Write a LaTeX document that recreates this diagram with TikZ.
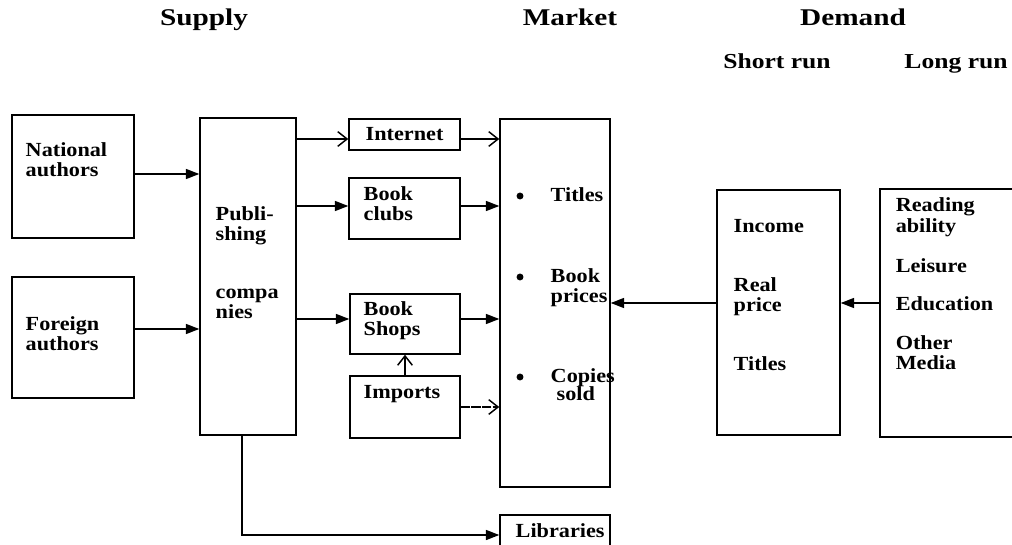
\documentclass[tikz,border=0pt]{standalone}
\usepackage{fontspec}
\usepackage{graphicx}
\setmainfont{Liberation Serif}
\usetikzlibrary{arrows.meta,fit}
% wide bold lettering used for all labels
\newcommand\widetxt[2]{\scalebox{#1}[1]{#2}}
\newcommand\bodytxt[1]{\widetxt{1.11}{#1}}
\newcommand\headtxt[1]{\widetxt{1.22}{#1}}
\newcommand\subtxt[1]{\widetxt{1.2}{#1}}
\begin{document}
\begin{tikzpicture}[x=0.75pt,y=-0.75pt,
  line width=1.1pt,
  box/.style={draw, rectangle, inner sep=0pt, fit={#1}},
  lbl/.style={anchor=base west, inner sep=0pt, font=\fontsize{15}{18}\selectfont\bfseries},
  head/.style={anchor=base, inner sep=0pt, font=\fontsize{18}{22}\selectfont\bfseries},
  subhead/.style={anchor=base, inner sep=0pt, font=\fontsize{16}{19}\selectfont\bfseries},
  dot/.style={circle, fill, inner sep=0pt, minimum size=5.2pt},
  solidtip/.style={-{Triangle[length=10pt,width=7.5pt]}},
  opentip/.style={-{Straight Barb[length=7pt,width=11pt]}},
]
\useasboundingbox (0,0) rectangle (1012,545);
\clip (0,0) rectangle (1012,545);

% column headings
\node[head] (hsupply) at (204,26) {\headtxt{Supply}};
\node[head] (hmarket) at (570,26) {\headtxt{Market}};
\node[head] (hdemand) at (853,26) {\headtxt{Demand}};
\node[subhead] (hshort) at (777,69) {\subtxt{Short run}};
\node[subhead] (hlong) at (956,69) {\subtxt{Long run}};

% supply side
\node[box={(12,115) (134,238)}] (nat) {};
\node[lbl] (nat1) at (25,157) {\bodytxt{National}};
\node[lbl] (nat2) at (25,177) {\bodytxt{authors}};

\node[box={(12,277) (134,398)}] (for) {};
\node[lbl] (for1) at (25,330) {\bodytxt{Foreign}};
\node[lbl] (for2) at (25,350) {\bodytxt{authors}};

\node[box={(200,118) (296,435)}] (pub) {};
\node[lbl] (pub1) at (215,220) {\bodytxt{Publi-}};
\node[lbl] (pub2) at (215,240) {\bodytxt{shing}};
\node[lbl] (pub3) at (215,298) {\bodytxt{compa}};
\node[lbl] (pub4) at (215,318) {\bodytxt{nies}};

% distribution channels
\node[box={(349,119) (460,150)}] (int) {};
\node[lbl] (int1) at (365,141) {\bodytxt{Internet}};

\node[box={(349,178) (460,239)}] (clubs) {};
\node[lbl] (clubs1) at (363,200) {\bodytxt{Book}};
\node[lbl] (clubs2) at (363,220) {\bodytxt{clubs}};

\node[box={(350,294) (460,354)}] (shops) {};
\node[lbl] (shops1) at (363,315) {\bodytxt{Book}};
\node[lbl] (shops2) at (363,335) {\bodytxt{Shops}};

\node[box={(350,376) (460,438)}] (imp) {};
\node[lbl] (imp1) at (363,398) {\bodytxt{Imports}};

% market
\node[box={(500,119) (610,487)}] (mkt) {};
\node[dot] (d1) at (520,196) {};
\node[lbl] (m1) at (550,202) {\bodytxt{Titles}};
\node[dot] (d2) at (520,277) {};
\node[lbl] (m2) at (550,282) {\bodytxt{Book}};
\node[lbl] (m3) at (550,302) {\bodytxt{prices}};
\node[dot] (d3) at (520,377) {};
\node[lbl] (m4) at (550,382) {\bodytxt{Copies}};
\node[lbl] (m5) at (556,400) {\bodytxt{sold}};

\node[box={(500,515) (610,555)}] (lib) {};
\node[lbl] (lib1) at (515,537) {\bodytxt{Libraries}};

% demand side
\node[box={(717,190) (840,435)}] (sr) {};
\node[lbl] (sr1) at (733,233) {\bodytxt{Income}};
\node[lbl] (sr2) at (733,291) {\bodytxt{Real}};
\node[lbl] (sr3) at (733,311) {\bodytxt{price}};
\node[lbl] (sr4) at (733,370) {\bodytxt{Titles}};

\node[box={(880,189) (1030,437)}] (lr) {};
\node[lbl] (lr1) at (895,212) {\bodytxt{Reading}};
\node[lbl] (lr2) at (895,232) {\bodytxt{ability}};
\node[lbl] (lr3) at (895,272) {\bodytxt{Leisure}};
\node[lbl] (lr4) at (895,310) {\bodytxt{Education}};
\node[lbl] (lr5) at (895,349) {\bodytxt{Other}};
\node[lbl] (lr6) at (895,369) {\bodytxt{Media}};

% flow levels
\coordinate (yNat) at (0,174);
\coordinate (yFor) at (0,329);
\coordinate (yInt) at (0,139);
\coordinate (yClub) at (0,206);
\coordinate (yShop) at (0,319);
\coordinate (yImp) at (0,407);
\coordinate (yDem) at (0,303);
\coordinate (xLib) at (242,0);

% connectors
\draw[solidtip] (nat.east |- yNat) -- (pub.west |- yNat);
\draw[solidtip] (for.east |- yFor) -- (pub.west |- yFor);
\draw[opentip] (pub.east |- yInt) -- (int.west |- yInt);
\draw[opentip] (int.east |- yInt) -- (mkt.west |- yInt);
\draw[solidtip] (pub.east |- yClub) -- (clubs.west |- yClub);
\draw[solidtip] (clubs.east |- yClub) -- (mkt.west |- yClub);
\draw[solidtip] (pub.east |- yShop) -- (shops.west |- yShop);
\draw[solidtip] (shops.east |- yShop) -- (mkt.west |- yShop);
\draw[opentip] (imp.north) -- (shops.south);
\draw[opentip, dash pattern=on 7pt off 1pt] (imp.east |- yImp) -- (mkt.west |- yImp);
\draw[solidtip] (pub.south -| xLib) |- (lib.west);
\draw[solidtip] (sr.west |- yDem) -- (mkt.east |- yDem);
\draw[solidtip] (lr.west |- yDem) -- (sr.east |- yDem);
\end{tikzpicture}
\end{document}
